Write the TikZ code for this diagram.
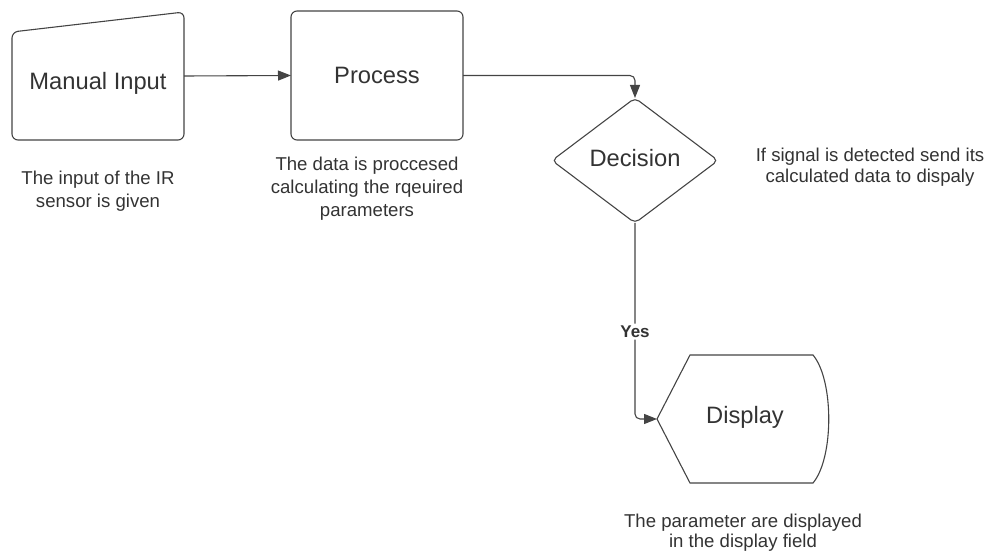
\documentclass[tikz,border=0pt]{standalone}
\usepackage{fontspec}
\setmainfont{Liberation Sans}
\usetikzlibrary{arrows.meta,shapes.geometric,calc}
\definecolor{ln}{HTML}{444444}
\definecolor{tx}{HTML}{333333}
\begin{document}
\begin{tikzpicture}[x=1pt,y=-1pt,
  shapeline/.style={draw=ln,line width=1.1pt},
  big/.style={text=tx,font=\fontsize{23.7}{27}\selectfont},
  note/.style={text=tx,align=center,font=\fontsize{18.6}{23}\selectfont},
  arr/.style={draw=ln,line width=1.1pt,-{Triangle[length=13pt,width=10pt]}},
  box/.style={inner sep=0pt,outer sep=0pt}]
\useasboundingbox (0,0) rectangle (991,556);
% Manual input
\node[box,minimum width=172pt,minimum height=128pt] (mi) at (98,76) {};
\draw[shapeline,rounded corners=6pt] (mi.south west) -- ($(mi.north west)+(0,20)$) -- (mi.north east) -- (mi.south east) -- cycle;
\node[big] (mil) at (98,83) {Manual Input};
% Process
\node[box,shapeline,rounded corners=6pt,minimum width=172pt,minimum height=129pt,big] (pr) at (377,75.5) {Process};
% Decision
\node[box,shapeline,diamond,rounded corners=5pt,minimum width=166pt,minimum height=125pt] (dec) at (635,160.5) {};
\node[big] (decl) at (635,158) {Decision};
% Display
\node[box,minimum width=172pt,minimum height=128pt] (dis) at (743,419) {};
\draw[shapeline] (dis.west) -- ($(dis.north west)+(33,0)$) -- ($(dis.north east)+(-16,0)$)
  .. controls ($(dis.north east)+(5,25)$) and ($(dis.south east)+(5,-25)$) .. ($(dis.south east)+(-16,0)$)
  -- ($(dis.south west)+(33,0)$) -- cycle;
\node[big] (disl) at (745,417) {Display};
% notes
\node[note] (n1) at (98,191) {The input of the IR\\sensor is given};
\node[note] (n2) at (367,189) {The data is proccesed\\calculating the rqeuired\\parameters};
\node[note,font=\fontsize{18.6}{21}\selectfont] (n3) at (870,167.5) {If signal is detected send its\\calculated data to dispaly};
\node[note,font=\fontsize{18.6}{20.5}\selectfont] (n4) at (743,532.5) {The parameter are displayed\\in the display field};
% connectors
\draw[arr] (mi.east) -- (pr.west);
\draw[arr,rounded corners=5pt] (pr.east) -| (dec.north);
\draw[arr,rounded corners=5pt] (dec.south) |- node[pos=0.277,fill=white,inner sep=2pt,text=tx,font=\fontsize{17}{20}\selectfont\bfseries] {Yes} (dis.west);
\end{tikzpicture}
\end{document}
